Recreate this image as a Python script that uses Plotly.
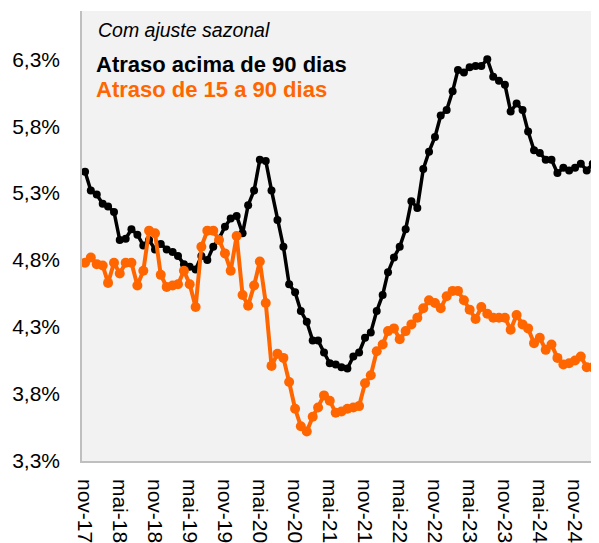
import pandas as pd
import plotly.graph_objects as go

months = pd.date_range("2017-11-01", periods=88, freq="MS")

atraso_90 = [
    5.46, 5.32, 5.29, 5.22, 5.20, 5.16, 4.95, 4.96, 5.03, 4.99,
    4.91, 4.95, 4.88, 4.92, 4.88, 4.86, 4.83, 4.77, 4.75, 4.73,
    4.83, 4.80, 4.90, 4.96, 5.05, 5.11, 5.13, 5.00, 5.21, 5.32,
    5.55, 5.54, 5.32, 5.10, 4.90, 4.62, 4.56, 4.42, 4.34, 4.20,
    4.20, 4.11, 4.03, 4.02, 4.00, 3.99, 4.08, 4.11, 4.22, 4.26,
    4.42, 4.54, 4.71, 4.82, 4.90, 5.03, 5.24, 5.19, 5.48, 5.61,
    5.72, 5.88, 5.92, 6.06, 6.22, 6.20, 6.24, 6.25, 6.25, 6.30,
    6.17, 6.14, 6.11, 5.91, 5.97, 5.92, 5.76, 5.62, 5.60, 5.55,
    5.55, 5.45, 5.49, 5.47, 5.49, 5.52, 5.47, 5.52,
]

atraso_15_90 = [
    4.78, 4.82, 4.77, 4.76, 4.63, 4.78, 4.70, 4.78, 4.78, 4.61,
    4.72, 5.02, 5.00, 4.69, 4.60, 4.61, 4.62, 4.72, 4.62, 4.45,
    4.90, 5.02, 5.02, 4.95, 4.85, 4.72, 4.98, 4.54, 4.46, 4.61,
    4.79, 4.48, 4.01, 4.10, 4.07, 3.89, 3.69, 3.56, 3.52, 3.63,
    3.70, 3.79, 3.75, 3.66, 3.67, 3.69, 3.70, 3.71, 3.88, 3.94,
    4.12, 4.17, 4.27, 4.29, 4.21, 4.27, 4.32, 4.37, 4.44, 4.50,
    4.48, 4.44, 4.53, 4.57, 4.57, 4.50, 4.43, 4.36, 4.45, 4.40,
    4.37, 4.37, 4.37, 4.28, 4.39, 4.32, 4.29, 4.18, 4.22, 4.13,
    4.17, 4.07, 4.02, 4.03, 4.05, 4.08, 4.00, 4.00,
]

tick_dates = pd.date_range("2017-11-01", "2024-11-01", freq="6MS")
pt_months = {5: "mai", 11: "nov"}
tick_text = [f"{pt_months[d.month]}-{d.strftime('%y')}" for d in tick_dates]

y_ticks = [3.3, 3.8, 4.3, 4.8, 5.3, 5.8, 6.3]
y_text = [f"{v:.1f}".replace(".", ",") + "%" for v in y_ticks]

BLACK = "#000000"
ORANGE = "#FF6600"
FONT = "Liberation Sans, Arial, sans-serif"

fig = go.Figure()
fig.add_trace(go.Scatter(
    x=months, y=atraso_90, mode="lines+markers",
    line=dict(color=BLACK, width=3.5), marker=dict(color=BLACK, size=8),
    name="Atraso acima de 90 dias", showlegend=False,
))
fig.add_trace(go.Scatter(
    x=months, y=atraso_15_90, mode="lines+markers",
    line=dict(color=ORANGE, width=4), marker=dict(color=ORANGE, size=10),
    name="Atraso de 15 a 90 dias", showlegend=False,
))

fig.update_layout(
    width=591, height=535,
    margin=dict(l=74, r=0, t=3, b=82),
    paper_bgcolor="white", plot_bgcolor="#F2F2F2",
    font=dict(family=FONT, size=21, color="black"),
    xaxis=dict(
        range=["2017-10-16", "2025-03-06"],
        tickvals=list(tick_dates), ticktext=tick_text, tickangle=90,
        showgrid=False, zeroline=False, showline=True,
        linecolor="#BFBFBF", linewidth=1.5, ticks="",
        ticklabelstandoff=12,
        tickfont=dict(family=FONT, size=21, color="black"),
    ),
    yaxis=dict(
        range=[3.3, 6.66], tickvals=y_ticks, ticktext=y_text,
        showgrid=False, zeroline=False, showline=True,
        linecolor="#BFBFBF", linewidth=1.5, ticks="",
        ticklabelstandoff=16,
        tickfont=dict(family=FONT, size=21, color="black"),
    ),
    annotations=[
        dict(text="<i>Com ajuste sazonal</i>", xref="paper", yref="paper",
             x=0.027, y=0.958, xanchor="left", yanchor="middle", showarrow=False,
             font=dict(family=FONT, size=19.5, color="black")),
        dict(text="<b>Atraso acima de 90 dias</b>", xref="paper", yref="paper",
             x=0.024, y=0.882, xanchor="left", yanchor="middle", showarrow=False,
             font=dict(family=FONT, size=22, color=BLACK)),
        dict(text="<b>Atraso de 15 a 90 dias</b>", xref="paper", yref="paper",
             x=0.024, y=0.826, xanchor="left", yanchor="middle", showarrow=False,
             font=dict(family=FONT, size=22, color=ORANGE)),
    ],
)

fig.write_html("out.html")
